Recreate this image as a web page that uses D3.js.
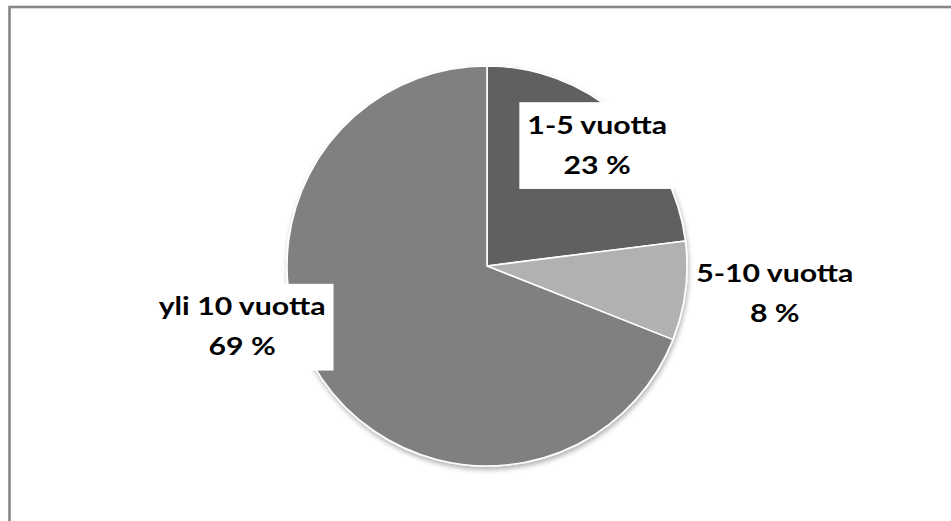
<!DOCTYPE html>
<html>
<head>
<meta charset="utf-8">
<script src="https://cdn.jsdelivr.net/npm/d3@7"></script>
<style>
  html, body { margin: 0; padding: 0; background: #fff; }
  svg { display: block; }
  .lbl { font-family: Lato, "Open Sans", sans-serif; font-weight: 700; fill: #000; }
</style>
</head>
<body>
<svg id="chart" width="951" height="521"></svg>
<script>
// Työkokemus vuosina – osuudet vastaajista
const categories = ["1-5 vuotta", "5-10 vuotta", "yli 10 vuotta"];
const shares = [23, 8, 69];
const sliceColors = ["#606060", "#b1b1b1", "#808080"];

const W = 951, H = 521;
const cx = 487, cy = 266, R = 200;
const sx = 1.21; // horizontal stretch of the label lettering

// label anchor per slice: angle (deg, clockwise from 12 o'clock) and radius factor
const labelPlacement = [
  { angle: 42.2, rf: 0.82, box: true },
  { angle: 95.3, rf: 1.445, box: false },
  { angle: 256.2, rf: 1.261, box: true }
];

const svg = d3.select("#chart");

// drop shadow under the pie
const defs = svg.append("defs");
const f = defs.append("filter").attr("id", "shadow")
  .attr("x", "-20%").attr("y", "-20%").attr("width", "140%").attr("height", "140%");
f.append("feDropShadow").attr("dx", 1).attr("dy", 3).attr("stdDeviation", 2.5)
  .attr("flood-color", "#000").attr("flood-opacity", 0.3);

// outer frame (runs past the right and bottom edges)
svg.append("rect")
  .attr("x", 9.5).attr("y", 7).attr("width", 1000).attr("height", 600)
  .attr("fill", "none").attr("stroke", "#878787").attr("stroke-width", 2.6);

const pie = d3.pie().sort(null).value(d => d)(shares);
const arc = d3.arc().innerRadius(0).outerRadius(R);

const g = svg.append("g").attr("transform", `translate(${cx},${cy})`);
g.append("g").attr("filter", "url(#shadow)")
  .selectAll("path").data(pie).join("path")
  .attr("d", arc)
  .attr("fill", (d, i) => sliceColors[i])
  .attr("stroke", "#fff").attr("stroke-width", 1.6).attr("stroke-linejoin", "round");

// labels: category on first line, share on the second
const labels = g.append("g");
pie.forEach((d, i) => {
  const p = labelPlacement[i];
  const a = p.angle * Math.PI / 180;
  const x = Math.sin(a) * R * p.rf, y = -Math.cos(a) * R * p.rf;
  const lg = labels.append("g").attr("transform", `translate(${x},${y})`);
  const t = lg.append("text").attr("class", "lbl").attr("text-anchor", "middle")
    .attr("font-size", 25).attr("transform", `scale(${sx},1)`);
  t.append("tspan").attr("x", 0).attr("y", -11).text(categories[i]);
  t.append("tspan").attr("x", 0).attr("y", 29).text(shares[i] + " %");
  if (p.box) {
    const bb = t.node().getBBox();
    const padX = 8, padTop = 7, padBottom = 10;
    lg.insert("rect", "text")
      .attr("x", bb.x * sx - padX).attr("y", bb.y - padTop)
      .attr("width", bb.width * sx + 2 * padX).attr("height", bb.height + padTop + padBottom)
      .attr("fill", "#fff");
  }
});
</script>
</body>
</html>
